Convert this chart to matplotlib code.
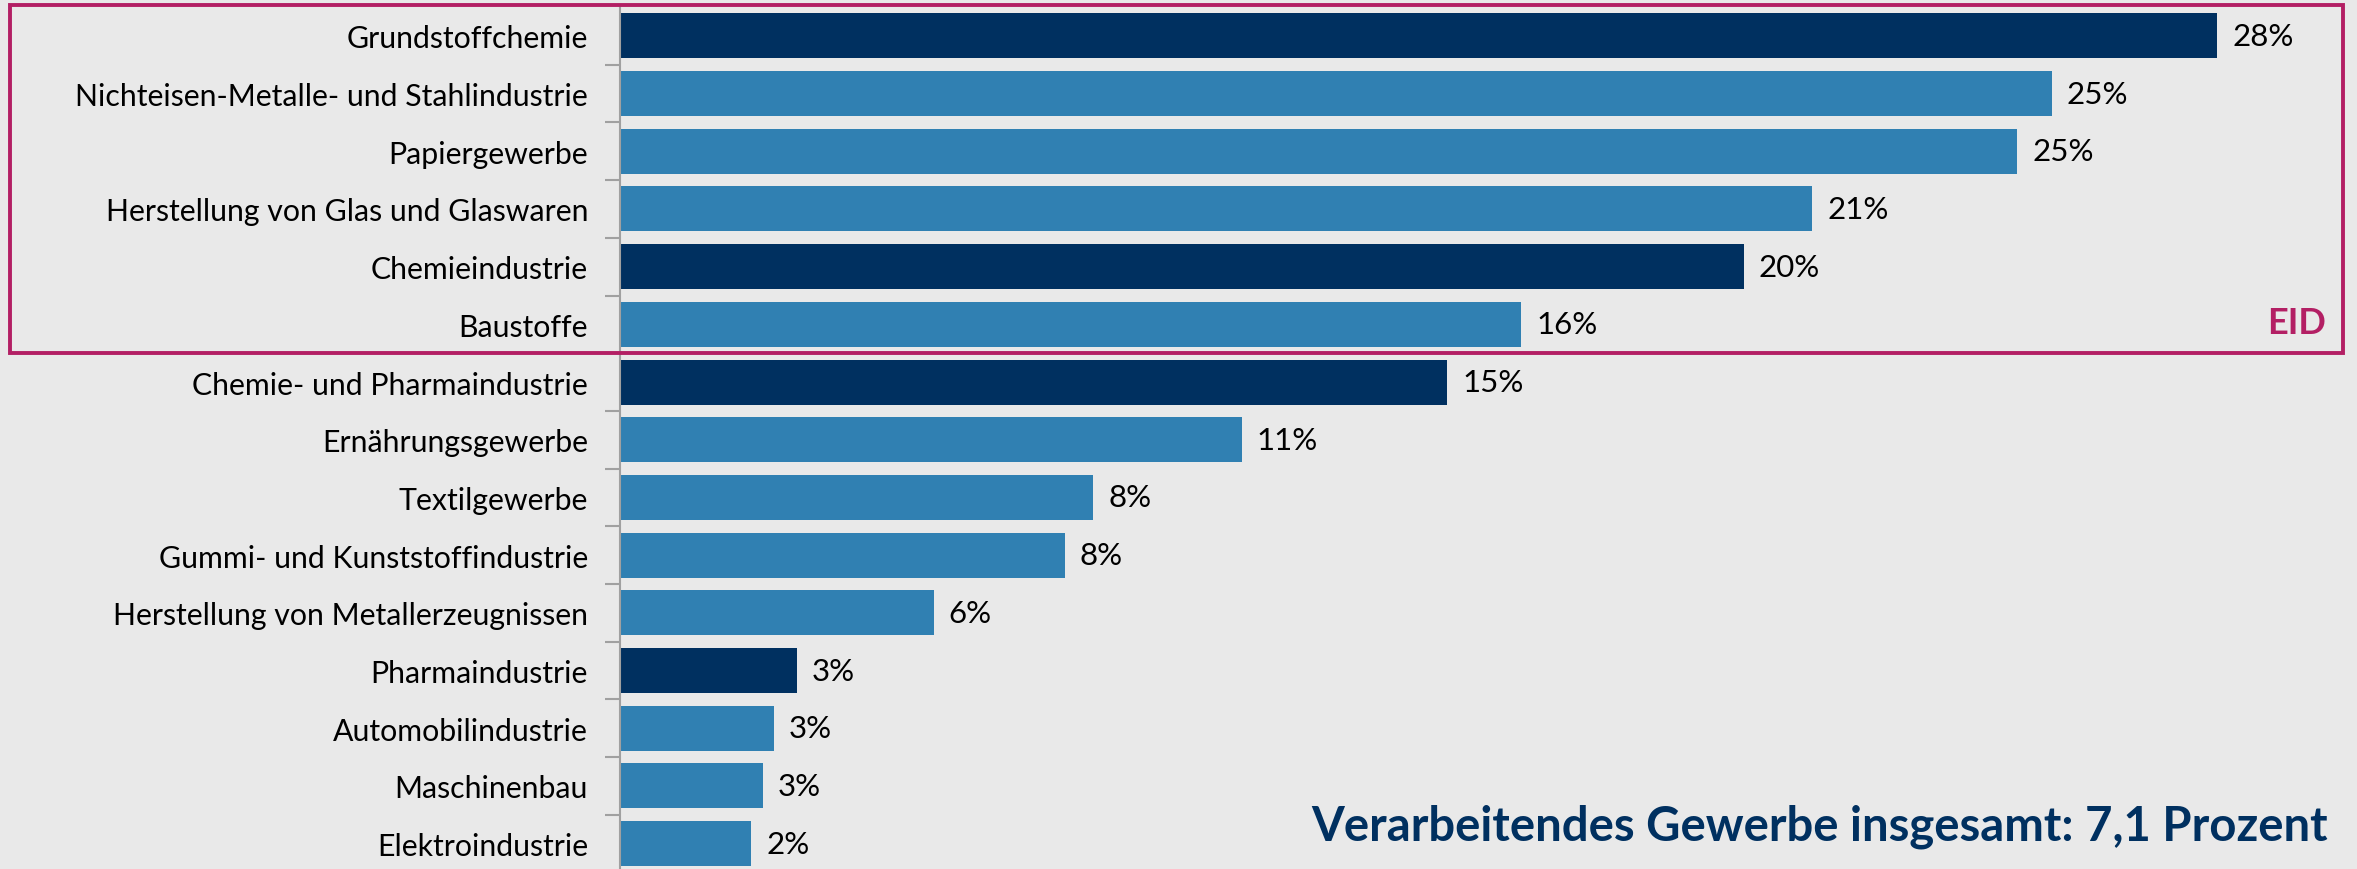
import matplotlib
matplotlib.use("Agg")
import matplotlib.pyplot as plt
from matplotlib.patches import Rectangle
from matplotlib.transforms import blended_transform_factory
import numpy as np

categories = [
    "Grundstoffchemie",
    "Nichteisen-Metalle- und Stahlindustrie",
    "Papiergewerbe",
    "Herstellung von Glas und Glaswaren",
    "Chemieindustrie",
    "Baustoffe",
    "Chemie- und Pharmaindustrie",
    "Ernährungsgewerbe",
    "Textilgewerbe",
    "Gummi- und Kunststoffindustrie",
    "Herstellung von Metallerzeugnissen",
    "Pharmaindustrie",
    "Automobilindustrie",
    "Maschinenbau",
    "Elektroindustrie",
]
values = [28.0, 25.1, 24.5, 20.9, 19.7, 15.8, 14.5, 10.9, 8.3, 7.8, 5.5, 3.1, 2.7, 2.5, 2.3]
value_labels = ["28%", "25%", "25%", "21%", "20%", "16%", "15%", "11%", "8%", "8%", "6%", "3%", "3%", "3%", "2%"]
dark = [True, False, False, False, True, False, True, False, False, False, False, True, False, False, False]
eid_count = 6
total_text = "Verarbeitendes Gewerbe insgesamt: 7,1 Prozent"

BG = "#E9E9E9"
NAVY = "#003060"
BLUE = "#3080B2"
MAGENTA = "#B31F64"

plt.rcParams['font.family'] = ['Lato', 'DejaVu Sans']

W, H = 2357, 870
fig = plt.figure(figsize=(W / 100, H / 100), dpi=100, facecolor=BG)
left_px, right_px, top_px, bot_px = 620, 2357, 8, 870
ax = fig.add_axes([left_px / W, 0, (right_px - left_px) / W, (H - top_px) / H])
ax.set_facecolor(BG)

px_per_pct = 57.04
pitch = 57.7
y = np.arange(len(categories))
colors = [NAVY if d else BLUE for d in dark]
ax.barh(y, values, height=0.78, color=colors, zorder=2)
ax.set_xlim(0, (right_px - left_px) / px_per_pct)
ax.set_ylim(-0.5 + (H - top_px) / pitch, -0.5)

for yi, v, lab in zip(y, values, value_labels):
    ax.text(v + 15 / px_per_pct, yi, lab, va="center", ha="left", fontsize=22.5, color="black")

ax.set_yticks(y)
ax.set_yticklabels(categories, fontsize=21.8)
ax.set_yticks(np.arange(len(categories) - 1) + 0.5, minor=True)
ax.tick_params(axis="y", which="major", length=0, pad=23)
ax.tick_params(axis="y", which="minor", length=11, width=1.5, color="#A0A0A0", direction="out")
ax.set_xticks([])
for s in ["top", "right", "bottom"]:
    ax.spines[s].set_visible(False)
ax.spines["left"].set_color("#A0A0A0")
ax.spines["left"].set_linewidth(1.5)

# EID box
tr = blended_transform_factory(fig.transFigure, ax.transData)
x0 = 10 / W
x1 = 2343 / W
ytop = -0.5 - 2 / pitch
ybot = eid_count - 0.5
rect = Rectangle((x0, ybot), x1 - x0, ytop - ybot, transform=tr, fill=False,
                 edgecolor=MAGENTA, linewidth=2.8, clip_on=False, zorder=5)
fig.add_artist(rect)
fig.text(2326 / W, 1 - 323 / H, "EID", ha="right", va="center", fontsize=26,
         fontweight="bold", color=MAGENTA)

fig.text(2328 / W, 1 - 827 / H, total_text, ha="right", va="center", fontsize=34,
         fontweight="bold", color=NAVY)

fig.savefig("out.png", dpi=100, facecolor=BG)
